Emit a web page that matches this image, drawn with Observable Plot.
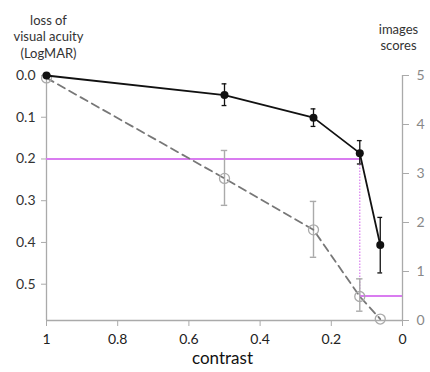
<!DOCTYPE html>
<html><head><meta charset="utf-8">
<script src="https://cdn.jsdelivr.net/npm/d3@7"></script>
<script src="https://cdn.jsdelivr.net/npm/@observablehq/plot@0.6"></script>
<style>body{margin:0;background:#fff;} svg{display:block}</style>
</head><body><div id="chart"></div>
<script>
// ---- data ----
const contrast  = [1, 0.5, 0.25, 0.12, 0.0625];
const logmar    = [0, 0.047, 0.101, 0.186, 0.406];
const logmarLo  = [0, 0.020, 0.080, 0.156, 0.340];
const logmarHi  = [0, 0.072, 0.122, 0.212, 0.473];
const scores    = [4.95, 2.90, 1.85, 0.49, 0.03];
const scoresLo  = [null, 2.35, 1.29, 0.19, null];
const scoresHi  = [null, 3.47, 2.43, 0.85, null];
const leftTicks  = [0, 0.1, 0.2, 0.3, 0.4, 0.5];
const rightTicks = [0, 1, 2, 3, 4, 5];
const xTicks     = [1, 0.8, 0.6, 0.4, 0.2, 0];
const thresholdLogmar = 0.2;
const thresholdContrast = 0.12;
const thresholdScore = 0.5;
const yMax = 0.587, sMax = 5;
const leftTitle = ["loss of", "visual acuity", "(LogMAR)"];
const rightTitle = ["images", "scores"];
const xLabel = "contrast";

// map score (right axis) onto the LogMAR scale
const toL = s => (sMax - s) * yMax / sMax;
const acuity = contrast.map((c, i) => ({c, v: logmar[i], lo: logmarLo[i], hi: logmarHi[i]}));
const imgs = contrast.map((c, i) => ({c, v: toL(scores[i]),
  lo: scoresLo[i] == null ? null : toL(scoresLo[i]),
  hi: scoresHi[i] == null ? null : toL(scoresHi[i])}));
const imgsErr = imgs.filter(d => d.lo != null);
const acuErr = acuity.filter(d => d.hi > d.lo);
const cap = 0.009;
const magenta = "#d97cf0";

const W = 430, H = 372, mL = 46, mR = 28, mT = 75, mB = 52;
const plot = Plot.plot({
  width: W, height: H, marginLeft: mL, marginRight: mR, marginTop: mT, marginBottom: mB,
  style: {fontFamily: "Lato, sans-serif", fontSize: "13px", background: "#fff", overflow: "visible"},
  x: {domain: [1, 0]},
  y: {domain: [0, yMax], reverse: true},
  marks: [
    // axis lines
    Plot.ruleX([1], {stroke: "#aaa", strokeWidth: 1.3}),
    Plot.ruleX([0], {stroke: "#aaa", strokeWidth: 1.3}),
    Plot.ruleY([yMax], {stroke: "#aaa", strokeWidth: 1.3}),
    Plot.axisX({ticks: xTicks, tickFormat: d => String(d), tickSize: 6, tickPadding: 8,
      stroke: "#aaa", fill: "#222", fontSize: 14, label: null}),
    Plot.axisY({ticks: leftTicks, tickFormat: d => d.toFixed(1), tickSize: 5, tickPadding: 6,
      stroke: "#aaa", fill: "#333", fontSize: 14, label: null}),
    Plot.axisY({anchor: "right", ticks: rightTicks.map(toL),
      tickFormat: v => String(Math.round(sMax - v * sMax / yMax)), tickSize: 6, tickPadding: 8,
      stroke: "#aaa", fill: "#888", fontSize: 14, label: null}),
    // threshold guides
    Plot.ruleY([thresholdLogmar], {x1: 1, x2: thresholdContrast, stroke: magenta, strokeWidth: 2.2}),
    Plot.ruleX([thresholdContrast], {y1: thresholdLogmar, y2: toL(thresholdScore), stroke: magenta,
      strokeWidth: 1.2, strokeDasharray: "1.5,1.5"}),
    Plot.ruleY([toL(thresholdScore)], {x1: thresholdContrast, x2: 0, stroke: magenta, strokeWidth: 2.2}),
    // image scores (gray, dashed)
    Plot.ruleX(imgsErr, {x: "c", y1: "lo", y2: "hi", stroke: "#aaa", strokeWidth: 1.4}),
    Plot.ruleY(imgsErr, {y: "lo", x1: d => d.c + cap, x2: d => d.c - cap, stroke: "#aaa", strokeWidth: 1.4}),
    Plot.ruleY(imgsErr, {y: "hi", x1: d => d.c + cap, x2: d => d.c - cap, stroke: "#aaa", strokeWidth: 1.4}),
    Plot.line(imgs, {x: "c", y: "v", stroke: "#777", strokeWidth: 1.8, strokeDasharray: "8,5"}),
    Plot.dot(imgs, {x: "c", y: "v", r: 5, stroke: "#aaa", strokeWidth: 1.3, fill: "#fff", fillOpacity: 0}),
    // visual acuity (black)
    Plot.ruleX(acuErr, {x: "c", y1: "lo", y2: "hi", stroke: "#111", strokeWidth: 1.3}),
    Plot.ruleY(acuErr, {y: "lo", x1: d => d.c + cap * 0.75, x2: d => d.c - cap * 0.75, stroke: "#111", strokeWidth: 1.3}),
    Plot.ruleY(acuErr, {y: "hi", x1: d => d.c + cap * 0.75, x2: d => d.c - cap * 0.75, stroke: "#111", strokeWidth: 1.3}),
    Plot.line(acuity, {x: "c", y: "v", stroke: "#111", strokeWidth: 1.8}),
    Plot.dot(acuity, {x: "c", y: "v", r: 4, fill: "#111"}),
    // titles
    Plot.text([leftTitle.join("\n")], {frameAnchor: "top-left", dx: 2, dy: -63, textAnchor: "middle",
      lineAnchor: "top", lineHeight: 1.3, fontSize: 13, fill: "#333"}),
    Plot.text([rightTitle.join("\n")], {frameAnchor: "top-right", dx: -4, dy: -54, textAnchor: "middle",
      lineAnchor: "top", lineHeight: 1.3, fontSize: 13, fill: "#333"}),
    Plot.text([xLabel], {frameAnchor: "bottom", dx: -2, dy: 38, lineAnchor: "middle", fontSize: 17, fill: "#111"})
  ]
});
document.getElementById("chart").appendChild(plot);
</script>
</body></html>
